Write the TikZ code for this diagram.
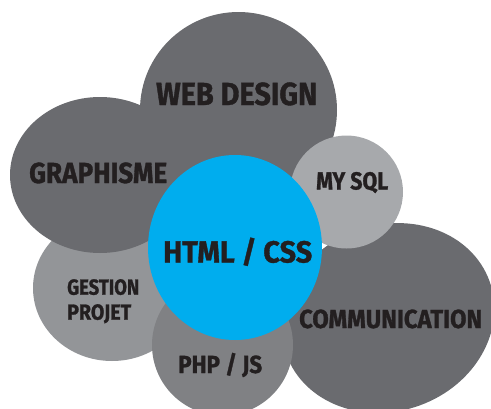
\documentclass[tikz,border=0pt]{standalone}
\usepackage{fontspec}
\setmainfont{Fira Sans}[BoldFeatures={FakeBold=1.2}]
\usetikzlibrary{shapes.geometric}
\definecolor{dk}{HTML}{6A6B6F}
\definecolor{lt}{HTML}{A7A9AC}
\definecolor{md}{HTML}{939598}
\definecolor{mdd}{HTML}{808184}
\definecolor{blu}{HTML}{00ADEE}
\definecolor{txt}{HTML}{231F20}
\newcommand\fitto[2]{\resizebox{#1}{\height}{#2}}
\begin{document}
\begin{tikzpicture}[x=1pt,y=-1pt,
  bub/.style={ellipse, inner sep=0pt, draw=none},
  lbl/.style={inner sep=0pt, text=txt, anchor=base west},
  fs/.style={font=\bfseries\fontsize{#1}{#1}\selectfont}]
\useasboundingbox (0,0) rectangle (491,408);
\clip (0,0) rectangle (491,408);
\node[bub, fill=dk, minimum width=216pt, minimum height=186pt, rotate=20] (comm) at (388,318) {};
\node[bub, fill=dk, minimum width=197pt, minimum height=196pt] (web) at (238.5,110) {};
\node[bub, fill=lt, minimum width=113pt, minimum height=113pt] (sql) at (346.5,192) {};
\node[bub, fill=md, minimum width=158pt, minimum height=146pt] (gest) at (112,288) {};
\node[bub, fill=dk, minimum width=180pt, minimum height=156pt] (graph) at (100,175) {};
\node[bub, fill=mdd, minimum width=141pt, minimum height=141pt] (php) at (222.5,345) {};
\node[bub, fill=blu, minimum width=174pt, minimum height=185pt] (html) at (235,247.5) {};
% labels
\node[lbl, fs=31.9] (tweb) at (156,105) {\fitto{161pt}{WEB DESIGN}};
\node[lbl, fs=29] (tgraph) at (29,183) {\fitto{138pt}{GRAPHISME}};
\node[lbl, fs=24.7] (tsql) at (316,189.5) {\fitto{72pt}{MY SQL}};
\node[lbl, fs=30.5] (thtml) at (163,262.5) {\fitto{149pt}{HTML / CSS}};
\node[lbl, anchor=north west, align=left, font=\bfseries\fontsize{21.8}{25}\selectfont] (tgest) at (67,279) {\fitto{72pt}{GESTION}\\\fitto{64pt}{PROJET}};
\node[lbl, fs=24.7] (tphp) at (178,373) {\fitto{84pt}{PHP / JS}};
\node[lbl, fs=26.1] (tcomm) at (299,328) {\fitto{183pt}{COMMUNICATION}};
\end{tikzpicture}
\end{document}
